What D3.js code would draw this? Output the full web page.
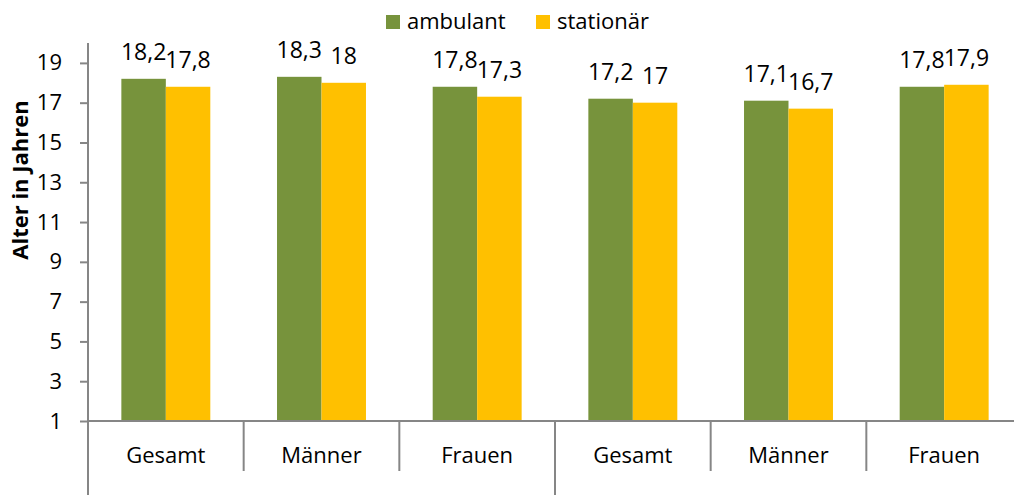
<!DOCTYPE html>
<html>
<head>
<meta charset="utf-8">
<script src="https://cdn.jsdelivr.net/npm/d3@7"></script>
<style>
  body { margin: 0; background: #fff; }
  svg { display: block; font-family: "Open Sans", sans-serif; }
</style>
</head>
<body>
<svg id="chart" width="1014" height="495"></svg>
<script>
var categories = ["Gesamt", "Männer", "Frauen", "Gesamt", "Männer", "Frauen"];
var groups = ["", ""];
var series = ["ambulant", "stationär"];
var ambulant = [18.2, 18.3, 17.8, 17.2, 17.1, 17.8];
var stationaer = [17.8, 18, 17.3, 17, 16.7, 17.9];
var yTicks = [1, 3, 5, 7, 9, 11, 13, 15, 17, 19];

var colors = { "ambulant": "#77933C", "stationär": "#FFC000" };
var axisColor = "#868686";

var plotLeft = 88, plotRight = 1022, plotTop = 43, plotBottom = 421;

var svg = d3.select("#chart");

var x = d3.scaleBand()
    .domain(d3.range(categories.length))
    .range([plotLeft, plotRight]);

var xs = d3.scaleBand()
    .domain(series)
    .range([0, x.bandwidth()])
    .paddingInner(0)
    .paddingOuter(0.75);

var y = d3.scaleLinear()
    .domain([1, 20])
    .range([plotBottom, plotTop]);

var rows = categories.map(function (c, i) {
  return { i: i, values: [
    { key: "ambulant", value: ambulant[i] },
    { key: "stationär", value: stationaer[i] }
  ] };
});

// bars
var g = svg.selectAll("g.cat")
    .data(rows)
    .enter().append("g")
    .attr("class", "cat")
    .attr("transform", function (d) { return "translate(" + x(d.i) + ",0)"; });

g.selectAll("rect")
    .data(function (d) { return d.values; })
    .enter().append("rect")
    .attr("x", function (d) { return xs(d.key); })
    .attr("y", function (d) { return y(d.value); })
    .attr("width", xs.bandwidth())
    .attr("height", function (d) { return y(1) - y(d.value); })
    .attr("fill", function (d) { return colors[d.key]; });

g.selectAll("text")
    .data(function (d) { return d.values; })
    .enter().append("text")
    .attr("x", function (d) { return xs(d.key) + xs.bandwidth() / 2; })
    .attr("y", function (d) { return y(d.value) - 19; })
    .attr("text-anchor", "middle")
    .style("font-size", "23px")
    .attr("fill", "#000")
    .text(function (d) { return String(d.value).replace(".", ","); });

// y axis
var yAxis = d3.axisLeft(y)
    .tickValues(yTicks)
    .tickSize(8)
    .tickPadding(18)
    .tickSizeOuter(0);

var ya = svg.append("g")
    .attr("transform", "translate(" + plotLeft + ",0)")
    .call(yAxis);
ya.select(".domain").remove();
ya.selectAll("line").attr("stroke", axisColor).attr("stroke-width", 2);
ya.selectAll("text").style("font-size", "22px").attr("fill", "#000")
    .style("font-family", "'Open Sans', sans-serif");

// axis lines
svg.append("line")
    .attr("x1", plotLeft).attr("x2", plotLeft)
    .attr("y1", plotTop).attr("y2", 495)
    .attr("stroke", axisColor).attr("stroke-width", 2);

svg.append("line")
    .attr("x1", plotLeft).attr("x2", 1014)
    .attr("y1", y(1)).attr("y2", y(1))
    .attr("stroke", axisColor).attr("stroke-width", 2);

// category separators (first level)
svg.selectAll("line.sep")
    .data(d3.range(1, categories.length))
    .enter().append("line")
    .attr("class", "sep")
    .attr("x1", function (d) { return x(d); })
    .attr("x2", function (d) { return x(d); })
    .attr("y1", y(1))
    .attr("y2", function (d) { return d % 3 === 0 ? 495 : 471; })
    .attr("stroke", axisColor).attr("stroke-width", 2);

// category labels
svg.selectAll("text.cat")
    .data(categories)
    .enter().append("text")
    .attr("class", "cat")
    .attr("x", function (d, i) { return x(i) + x.bandwidth() / 2; })
    .attr("y", 463)
    .attr("text-anchor", "middle")
    .style("font-size", "22px")
    .text(function (d) { return d; });

// y title
svg.append("text")
    .attr("transform", "translate(28,180) rotate(-90)")
    .attr("text-anchor", "middle")
    .style("font-size", "22px")
    .style("font-weight", "bold")
    .text("Alter in Jahren");

// legend
var legendX = [386, 536];
var lg = svg.selectAll("g.legend")
    .data(series)
    .enter().append("g")
    .attr("class", "legend")
    .attr("transform", function (d, i) { return "translate(" + legendX[i] + ",0)"; });

lg.append("rect")
    .attr("x", 0).attr("y", 15)
    .attr("width", 14).attr("height", 14)
    .attr("fill", function (d) { return colors[d]; });

lg.append("text")
    .attr("x", 21).attr("y", 29)
    .style("font-size", "22px")
    .text(function (d) { return d; });
</script>
</body>
</html>
